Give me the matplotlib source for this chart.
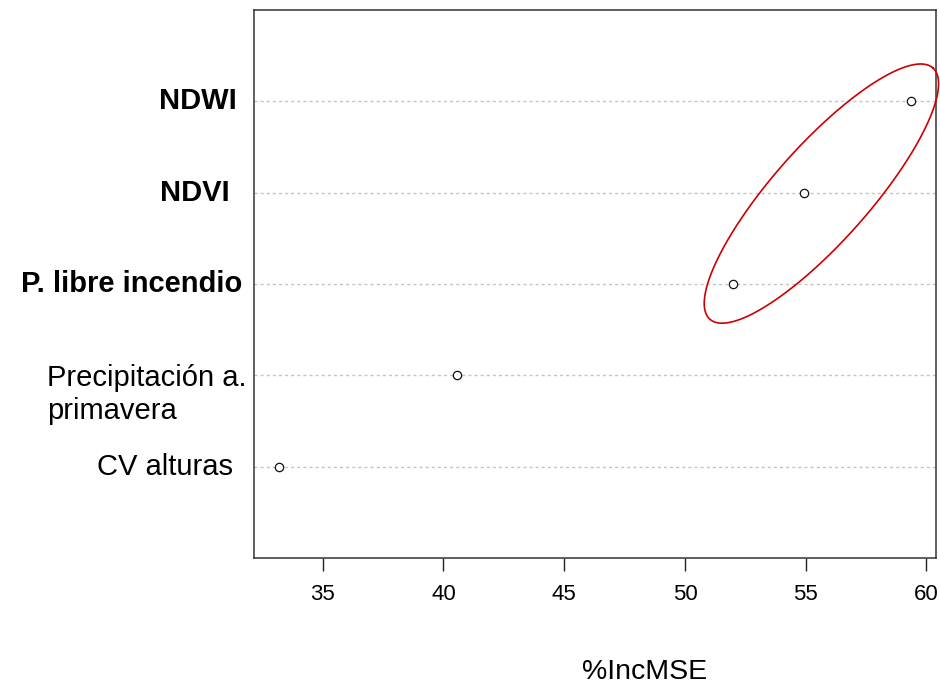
import numpy as np
import matplotlib
matplotlib.use("Agg")
import matplotlib.pyplot as plt

# variable importance (%IncMSE), bottom to top
variables = ["CV alturas", "Precipitación a.\nprimavera", "P. libre incendio", "NDVI", "NDWI"]
inc_mse = [33.2, 40.55, 52.0, 54.95, 59.35]
bold_vars = ["P. libre incendio", "NDVI", "NDWI"]
x_ticks = [35, 40, 45, 50, 55, 60]

plt.rcParams["font.family"] = ["Liberation Sans", "DejaVu Sans"]

fig = plt.figure(figsize=(9.4, 6.84), dpi=100)
ax = fig.add_axes([254 / 940, 1 - 558 / 684, 682 / 940, 548 / 684])

rows = np.arange(1, len(variables) + 1)
for r in rows:
    ax.axhline(r, color="#c4c4c4", lw=1.0, ls=(0, (2.2, 2.2)), zorder=1)
ax.plot(inc_mse, rows, ls="none", marker="o", ms=6, mfc="white", mec="#111111", mew=0.9, zorder=3)

# R dotchart style limits: range extended by 4%
span = max(inc_mse) - min(inc_mse)
ax.set_xlim(min(inc_mse) - 0.04 * span, max(inc_mse) + 0.04 * span)
ax.set_ylim(0, len(variables) + 1)
ax.set_xticks(x_ticks)
ax.set_xticklabels([str(t) for t in x_ticks], fontsize=16)
ax.set_yticks([])
ax.tick_params(axis="x", length=9.5, width=1.0, color="#222222", pad=9.5)
for s in ax.spines.values():
    s.set_linewidth(1.1); s.set_color("#333333")

# row labels placed by hand, left of the axes
tr = ax.get_yaxis_transform()
label_x = {"NDWI": -0.025, "NDVI": -0.0352, "P. libre incendio": -0.0176, "CV alturas": -0.0308}
for r, name in zip(rows, variables):
    if name.startswith("Precipitación"):
        ax.text(-0.3035, r - 0.21, name, transform=tr, ha="left", va="center", fontsize=21, linespacing=1.2)
    else:
        ax.text(label_x[name], r, name, transform=tr, ha="right", va="center", fontsize=21,
                fontweight="bold" if name in bold_vars else "normal")

fig.text(645 / 940, 1 - 672 / 684, "%IncMSE", ha="center", va="center", fontsize=20.5)

# red ellipse around the top three variables (drawn in pixel space)
cx, cy = ax.transData.transform((55.65, 3.99))
a, b, th = 168.0, 48.0, np.deg2rad(48.4)
t = np.linspace(0, 2 * np.pi, 400)
ex = cx + a * np.cos(t) * np.cos(th) - b * np.sin(t) * np.sin(th)
ey = cy + a * np.cos(t) * np.sin(th) + b * np.sin(t) * np.cos(th)
pts = ax.transData.inverted().transform(np.column_stack([ex, ey]))
ax.plot(pts[:, 0], pts[:, 1], color="#cc0000", lw=1.2, clip_on=False, zorder=4)

fig.savefig("out.png", dpi=100)
